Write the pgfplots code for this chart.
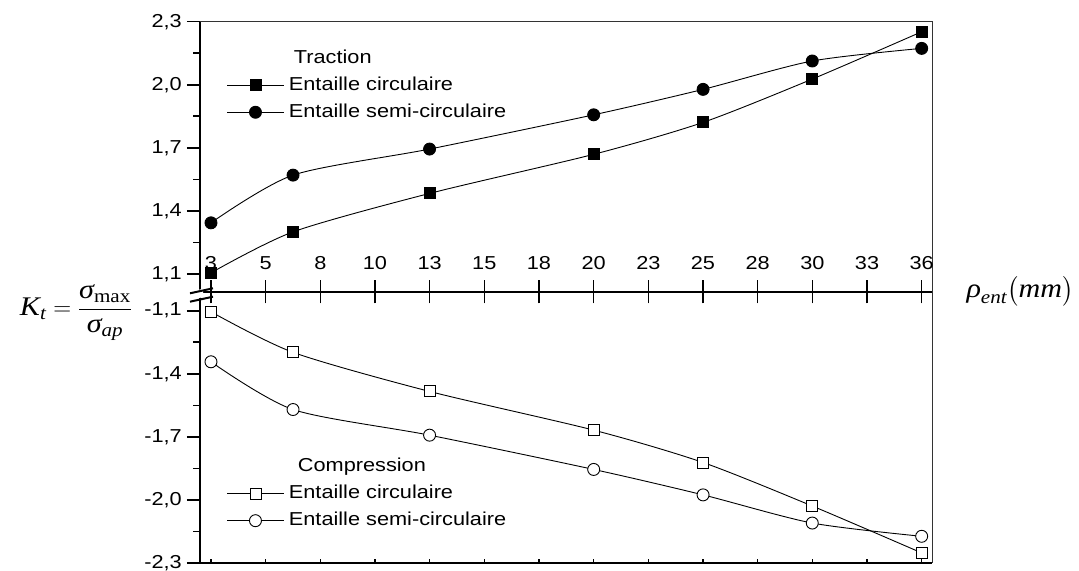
\documentclass[border=0pt]{standalone}
\usepackage{amsmath}
\usepackage{pgfplots}
\pgfplotsset{compat=1.18}
\usepackage{pgfplotstable}
\usepackage[no-math]{fontspec}
\setmainfont{Liberation Sans}[FakeStretch=1.16]
\newfontfamily\serif{Liberation Serif}[FakeStretch=1.12]

\pgfplotstableread{
x     trc    trs    cpc     cps
3     1.105  1.343  -1.105  -1.343
6.81  1.300  1.570  -1.298  -1.570
13.15 1.483  1.694  -1.484  -1.692
20.77 1.669  1.857  -1.668  -1.855
25.85 1.821  1.978  -1.822  -1.976
30.92 2.027  2.113  -2.029  -2.110
36    2.252  2.173  -2.252  -2.173
}\data

\def\xticksA{3,5.538,8.077,10.615,13.154,15.692,18.231,20.769,23.308,25.846,28.385,30.923,33.462,36}
\newcommand\tfont{\fontsize{18.8}{22}\selectfont}

\begin{document}
\begin{tikzpicture}
\useasboundingbox (0bp,0bp) rectangle (1079bp,571bp);
\pgfplotsset{
  every axis/.append style={scale only axis, width=732bp, xmin=2.49, xmax=36.48,
    anchor=south west, clip=false},
  myleg/.style={legend cell align=left,
    legend style={draw=none, fill=none, inner sep=0pt, outer sep=0pt,
      row sep=9bp, column sep=5bp, font=\tfont,
      nodes={inner sep=0pt, text height=14bp, text depth=4bp}},
    legend image code/.code={\draw[mark repeat=2,mark phase=2,##1] plot coordinates {(0bp,0bp) (28bp,0bp) (56bp,0bp)};}},
  ser/.style={black, line width=0.9bp, smooth, tension=0.45, mark options={solid, line width=0.9bp}},
}
% ---------- upper axis (traction)
\begin{axis}[at={(200bp,279bp)}, height=270.3bp, ymin=1.014, ymax=2.3,
  axis x line*=bottom, axis y line*=left,
  x axis line style={line width=2.2bp, -}, y axis line style={line width=2.2bp, -},
  xtick=\empty,
  ytick={1.1,1.4,1.7,2.0,2.3}, yticklabels={{1,1},{1,4},{1,7},{2,0},{2,3}},
  minor y tick num=1, tick align=outside,
  major tick length=13bp, minor tick length=7bp,
  tick style={line width=1.6bp, black},
  yticklabel style={anchor=east, inner sep=0pt, font=\tfont, xshift=-5bp},
  myleg,
  legend style={at={(axis description cs:0.0369,0.898)}, anchor=north west},
]
\addlegendimage{empty legend}\addlegendentry{\hspace{5bp}Traction}
\addplot[ser, mark=square*, mark size=5.5bp, mark options={fill=black}] table[x=x, y=trc] {\data};
\addlegendentry{Entaille circulaire}
\addplot[ser, mark=*, mark size=6bp, mark options={fill=black}] table[x=x, y=trs] {\data};
\addlegendentry{Entaille semi-circulaire}
\draw[line width=0.8bp, black!80] (rel axis cs:0,1) -- (rel axis cs:1,1) -- (rel axis cs:1,0);
\end{axis}
% ---------- middle tick line
\begin{axis}[at={(200bp,279bp)}, height=270.3bp, ymin=0, ymax=1,
  axis x line*=bottom, axis y line=none,
  x axis line style={line width=2.2bp, -},
  xtick/.expanded={\xticksA},
  xticklabels={3,5,8,10,13,15,18,20,23,25,28,30,33,36},
  minor x tick num=1, tick align=center,
  major tick length=23bp, minor tick length=12bp,
  tick style={line width=1.6bp, black},
  xticklabel style={anchor=south, inner sep=0pt, font=\tfont, yshift=34bp},
]
\end{axis}
% ---------- lower axis (compression)
\begin{axis}[at={(200bp,8bp)}, height=271bp, ymin=-2.3, ymax=-1.011,
  axis x line*=bottom, axis y line*=left,
  x axis line style={line width=1.5bp, -}, y axis line style={line width=2.2bp, -},
  xtick=\empty,
  ytick={-2.3,-2.0,-1.7,-1.4,-1.1}, yticklabels={{-2,3},{-2,0},{-1,7},{-1,4},{-1,1}},
  minor y tick num=1, tick align=outside,
  major tick length=13bp, minor tick length=7bp,
  tick style={line width=1.6bp, black},
  yticklabel style={anchor=east, inner sep=0pt, font=\tfont, xshift=-5bp},
  myleg,
  legend style={at={(axis description cs:0.0369,0.3886)}, anchor=north west},
]
\addlegendimage{empty legend}\addlegendentry{\hspace{9bp}Compression}
\addplot[ser, mark=square*, mark size=5.5bp, mark options={fill=white}] table[x=x, y=cpc] {\data};
\addlegendentry{Entaille circulaire}
\addplot[ser, mark=*, mark size=6bp, mark options={fill=white}] table[x=x, y=cps] {\data};
\addlegendentry{Entaille semi-circulaire}
\draw[line width=0.8bp, black!80] (rel axis cs:1,1) -- (rel axis cs:1,0);
\end{axis}
% ---------- bottom small ticks
\begin{axis}[at={(200bp,8bp)}, height=271bp, ymin=0, ymax=1,
  axis x line*=bottom, axis y line=none,
  x axis line style={line width=1.5bp, -},
  xtick/.expanded={\xticksA}, xticklabels={},
  minor x tick num=1, tick align=inside,
  major tick length=4bp, minor tick length=4bp,
  tick style={line width=1.2bp, black},
]
\end{axis}
% ---------- axis break
\fill[white] (197bp,272.5bp) -- (203bp,273.8bp) -- (203bp,282.2bp) -- (197bp,280.9bp) -- cycle;
\draw[line width=2bp] (190bp,277.7bp) -- (213bp,282.7bp);
\draw[line width=2bp] (190bp,269.3bp) -- (213bp,274.3bp);
% ---------- axis labels
\node[font=\serif\fontsize{27}{31}\selectfont] at (76bp,258.5bp)
  {$\displaystyle \text{\itshape K}_{\text{\itshape t}} = \frac{\text{\itshape σ}_{\text{max}}}{\text{\itshape σ}_{\text{\itshape ap}}}$};
\node[font=\serif\fontsize{27}{31}\selectfont] at (1020bp,280bp)
  {$\text{\itshape ρ}_{\text{\itshape ent}}\bigl(\text{\itshape mm}\bigr)$};
\end{tikzpicture}
\end{document}
